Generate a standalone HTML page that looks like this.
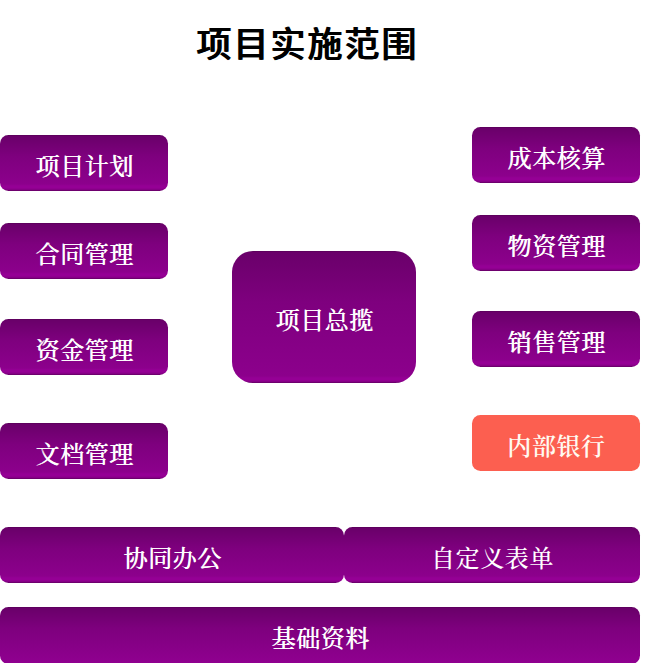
<!DOCTYPE html>
<html lang="zh-CN">
<head>
<meta charset="utf-8">
<title>项目实施范围</title>
<style>
html,body{margin:0;padding:0;background:#fff;}
body{width:647px;height:663px;position:relative;overflow:hidden;font-family:"Liberation Serif","Noto Serif CJK SC",serif;}
.t{position:absolute;left:194px;top:23px;width:226px;height:44px;line-height:44px;text-align:center;font-family:"Liberation Sans","Noto Sans CJK SC",sans-serif;font-weight:500;font-size:35px;color:#000;white-space:nowrap;letter-spacing:2px;text-shadow:1px 0 0 #000;}
.b{position:absolute;box-sizing:border-box;background:linear-gradient(to bottom,#580058 0,#6a006a 1.5px,#7e007e 38%,#8c008c calc(100% - 7px),#950095 calc(100% - 5px),#950095 calc(100% - 3px),#860086 calc(100% - 1.5px),#620062 100%);border-radius:8.5px;color:#fff;font-weight:400;text-shadow:.6px 0 0 #fff;font-size:24px;letter-spacing:.6px;padding:2px 0 0 1px;display:flex;align-items:center;justify-content:center;white-space:nowrap;}
.s{width:168px;height:56px;}
.l{left:0;}
.r{left:472px;}
.red{background:#fc5f50;font-weight:600;text-shadow:none;color:#fffaf0;}
.n{font-weight:500;text-shadow:none;}
.last{background:linear-gradient(to bottom,#580058 0,#6a006a 1.5px,#7e007e 38%,#900090 100%);}
.c{left:232px;top:251px;width:184px;height:132px;border-radius:21px;}
</style>
</head>
<body>
<div class="t">项目实施范围</div>
<div class="b s l" style="top:135px"><span>项目计划</span></div>
<div class="b s l" style="top:223px"><span>合同管理</span></div>
<div class="b s l" style="top:319px"><span>资金管理</span></div>
<div class="b s l" style="top:423px"><span>文档管理</span></div>
<div class="b s r" style="top:127px"><span>成本核算</span></div>
<div class="b s r" style="top:215px"><span>物资管理</span></div>
<div class="b s r" style="top:311px"><span>销售管理</span></div>
<div class="b s r red" style="top:415px"><span>内部银行</span></div>
<div class="b c"><span>项目总揽</span></div>
<div class="b" style="left:0;top:527px;width:344px;height:56px"><span>协同办公</span></div>
<div class="b n" style="left:344px;top:527px;width:296px;height:56px"><span>自定义表单</span></div>
<div class="b last" style="left:0;top:607px;width:640px;height:57px"><span>基础资料</span></div>
</body>
</html>
